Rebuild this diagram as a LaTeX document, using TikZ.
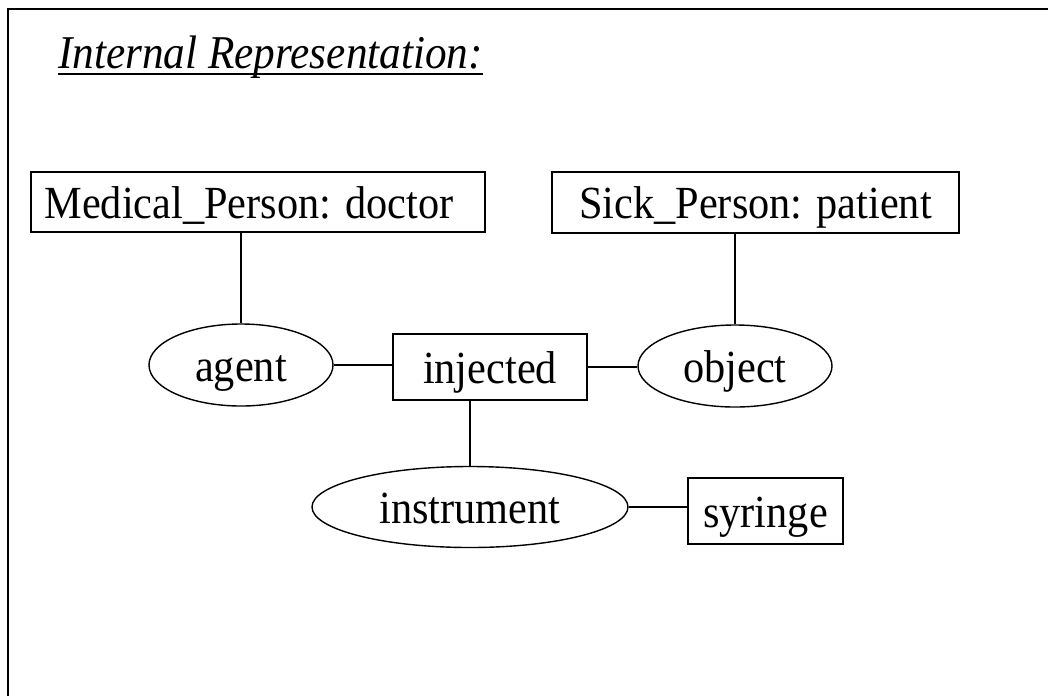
\documentclass[tikz,border=0pt]{standalone}
\usepackage{fontspec}
\setmainfont{Liberation Serif}[FakeStretch=0.92]
\usetikzlibrary{shapes.geometric}
\begin{document}
\begin{tikzpicture}[x=1pt,y=-1pt,
  lbl/.style={font=\fontsize{46}{54}\selectfont, text height=32pt, text depth=0pt,
              inner sep=0pt, line width=1.4pt},
  concept/.style={lbl, draw, rectangle},
  relation/.style={lbl, draw, ellipse},
  link/.style={line width=1.4pt}]
\useasboundingbox (0,0) rectangle (1048,696);
% frame (top and left edges)
\draw[line width=2pt] (1048,8.5) -- (7.5,8.5) -- (7.5,696);

% heading, underlined close to the baseline
\node[anchor=base west, inner sep=0pt, font=\fontsize{47}{54}\selectfont\itshape]
  (title) at (58,68) {Internal Representation:};
\draw[line width=2pt] ([yshift=-6pt]title.base west) -- ([yshift=-6pt]title.base east);

% concepts and relations
\node[concept, minimum width=454pt, minimum height=60pt] (med) at (258,202)
  {\hspace*{-18pt}Medical\_Person: doctor};
\node[concept, minimum width=407pt, minimum height=61pt] (sick) at (755.5,202.5) {Sick\_Person: patient};
\node[relation, minimum width=184pt, minimum height=82pt] (agent) at (241,365) {agent};
\node[concept, minimum width=194pt, minimum height=66pt] (inj) at (490,367) {injected};
\node[relation, minimum width=194pt, minimum height=82pt] (obj) at (735,366) {object};
\node[relation, minimum width=316pt, minimum height=81pt] (instr) at (470,507) {instrument};
\node[concept, minimum width=155pt, minimum height=66pt] (syr) at (765.5,511) {syringe};

% links
\draw[link] (agent.north) -- (agent.north |- med.south);
\draw[link] (obj.north) -- (obj.north |- sick.south);
\draw[link] (agent.east) -- (agent.east -| inj.west);
\draw[link] (inj.east) -- (inj.east -| obj.west);
\draw[link] (instr.north) -- (instr.north |- inj.south);
\draw[link] (instr.east) -- (instr.east -| syr.west);
\end{tikzpicture}
\end{document}
